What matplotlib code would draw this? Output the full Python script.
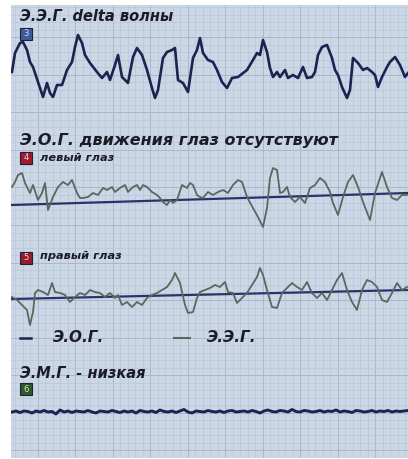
import matplotlib.pyplot as plt
from matplotlib.patches import Rectangle
from matplotlib.ticker import MultipleLocator

# traces (x = time position, y = trace value, axis inverted)
eeg_t = [12, 15, 20, 23, 27, 30, 33, 38, 43, 47, 50, 53, 57, 62, 67, 72, 75, 78, 82, 85,
         90, 97, 102, 107, 110, 115, 118, 122, 128, 133, 137, 142, 147, 152, 155, 158, 163,
         167, 172, 175, 178, 183, 188, 193, 197, 200, 203, 208, 213, 217, 222, 227, 232,
         238, 247, 253, 257, 260, 263, 267, 270, 273, 277, 280, 285, 288, 293, 298, 303,
         307, 312, 315, 318, 322, 327, 332, 335, 338, 342, 347, 350, 353, 358, 363, 367,
         372, 375, 378, 382, 387, 390, 395, 400, 405, 408]
eeg_v = [72, 53, 43, 42, 50, 62, 67, 82, 97, 83, 93, 97, 85, 85, 70, 62, 47, 35, 43, 55,
         63, 72, 78, 72, 80, 65, 55, 77, 83, 57, 48, 55, 70, 88, 98, 90, 58,
         52, 50, 48, 80, 83, 92, 58, 50, 38, 53, 60, 62, 70, 82, 88, 78,
         77, 70, 60, 53, 55, 40, 52, 68, 77, 72, 77, 70, 78, 75, 78, 67,
         78, 77, 72, 55, 47, 45, 58, 70, 75, 87, 98, 90, 58, 63, 70, 68,
         72, 75, 87, 77, 67, 62, 57, 65, 77, 73]

eog_l_t = [12, 15, 18, 22, 25, 30, 33, 38, 42, 45, 48, 53, 58, 63, 68, 72, 77, 80, 83, 88,
           93, 98, 103, 107, 112, 115, 120, 125, 128, 133, 137, 140, 143, 147, 152, 157,
           160, 163, 167, 170, 173, 177, 182, 187, 190, 193, 197, 200, 203, 208, 213, 218,
           223, 228, 233, 238, 242, 247, 253, 258, 263, 267, 270, 273, 277, 280, 283, 287,
           290, 295, 300, 305, 310, 315, 320, 325, 330, 333, 338, 343, 348, 353, 358, 363,
           370, 375, 382, 387, 392, 397, 402, 407]
eog_l_v = [187, 182, 175, 173, 183, 193, 185, 200, 193, 183, 210, 197, 187, 182, 185, 180,
           193, 198, 198, 197, 193, 195, 188, 190, 187, 192, 188, 185, 192, 187, 185, 190,
           185, 187, 192, 195, 198, 202, 205, 200, 203, 200, 185, 188, 183, 185, 195, 197,
           198, 192, 195, 192, 190, 193, 185, 180, 182, 197, 208, 217, 227, 208, 178, 168,
           170, 193, 192, 187, 197, 202, 197, 203, 188, 185, 178, 182, 192, 203, 215, 197,
           182, 175, 187, 202, 220, 193, 172, 187, 198, 200, 195, 195]
eog_l_base = [205, 193]

eog_r_t = [12, 17, 22, 27, 30, 33, 35, 38, 43, 48, 52, 55, 60, 65, 70, 75, 80, 85, 90, 95,
           100, 105, 110, 115, 118, 122, 127, 132, 137, 142, 147, 152, 157, 162, 167, 172,
           175, 180, 185, 188, 193, 197, 200, 205, 210, 215, 220, 225, 228, 233, 237, 242,
           247, 252, 257, 260, 263, 267, 272, 277, 282, 287, 292, 297, 302, 307, 312, 317,
           322, 327, 332, 337, 342, 347, 352, 357, 362, 367, 372, 377, 382, 387, 392, 397,
           402, 407]
eog_r_v = [297, 300, 305, 310, 325, 312, 293, 290, 292, 295, 283, 292, 293, 295, 302, 297,
           293, 295, 290, 292, 293, 297, 293, 298, 295, 305, 302, 307, 302, 305, 298, 295,
           293, 290, 287, 280, 273, 283, 305, 313, 312, 298, 292, 290, 288, 285, 287, 282,
           292, 293, 303, 298, 293, 285, 277, 268, 275, 290, 307, 308, 293, 288, 283, 287,
           290, 282, 293, 298, 293, 300, 290, 280, 273, 290, 302, 310, 290, 280, 282, 287,
           300, 302, 293, 283, 290, 287]
eog_r_base = [299, 290]

emg_t = [12, 16, 20, 24, 28, 32, 36, 40, 44, 48, 52, 56, 60, 64, 68, 72, 76, 80, 84, 88,
         92, 96, 100, 104, 108, 112, 116, 120, 124, 128, 132, 136, 140, 144, 148, 152, 156,
         160, 164, 168, 172, 176, 180, 184, 188, 192, 196, 200, 204, 208, 212, 216, 220,
         224, 228, 232, 236, 240, 244, 248, 252, 256, 260, 264, 268, 272, 276, 280, 284,
         288, 292, 296, 300, 304, 308, 312, 316, 320, 324, 328, 332, 336, 340, 344, 348,
         352, 356, 360, 364, 368, 372, 376, 380, 384, 388, 392, 396, 400, 404, 408]
emg_v = [412, 411, 412.5, 411, 411.5, 413, 411, 412, 410.5, 412, 411.5, 414, 410, 412,
         411, 412.5, 411, 411.5, 412, 410.5, 412, 413, 411, 411.5, 412, 410.5, 411.5, 412.5,
         411, 412, 411, 413, 410.5, 411.5, 412, 411, 412.5, 410, 411.5, 412, 411, 412.5,
         411, 409.5, 412, 413, 411, 411.5, 412, 410.5, 411.5, 412, 411, 412.5, 411, 410.5,
         412, 411.5, 411, 412, 410.5, 411.5, 413, 411, 410, 411.5, 412, 410.5, 411, 412,
         409.5, 411.5, 412, 410.5, 411, 412, 411.5, 410.5, 412, 411, 411.5, 410, 412, 411,
         411.5, 412.5, 410.5, 411, 412, 411.5, 410.5, 412, 411, 411.5, 410.5, 412, 411,
         411.5, 411, 410.5]

titles = ["Э.Э.Г. delta волны", "Э.О.Г. движения глаз отсутствуют", "Э.М.Г. - низкая"]
eye_labels = ["левый глаз", "правый глаз"]
badges = ["3", "4", "5", "6"]
legend_labels = ["Э.О.Г.", "Э.Э.Г."]

BG = "#ccd7e6"
NAVY = "#1b2350"
GREY = "#5d665e"
TXT = "#1c1c28"

fig = plt.figure(figsize=(4.08, 4.59), dpi=100)
ax = fig.add_axes([11 / 408, 1 / 459, 397 / 408, 453 / 459])
ax.set_facecolor(BG)
ax.set_xlim(11, 408)
ax.set_ylim(458, 5)
ax.xaxis.set_minor_locator(MultipleLocator(7.5))
ax.yaxis.set_minor_locator(MultipleLocator(7.5))
ax.xaxis.set_major_locator(MultipleLocator(37.5))
ax.yaxis.set_major_locator(MultipleLocator(37.5))
ax.grid(which="minor", color="#b9c6d8", lw=0.5)
ax.grid(which="major", color="#a9b8cc", lw=0.7)
ax.tick_params(which="both", length=0, labelbottom=False, labelleft=False)
for s in ax.spines.values():
    s.set_visible(False)

# traces
ax.plot(eeg_t, eeg_v, color=NAVY, lw=1.9, solid_joinstyle="round", zorder=3)
ax.plot([12, 408], eog_l_base, color="#26346a", lw=1.6, zorder=3)
ax.plot(eog_l_t, eog_l_v, color=GREY, lw=1.3, zorder=4)
ax.plot([12, 408], eog_r_base, color="#26346a", lw=1.6, zorder=3)
ax.plot(eog_r_t, eog_r_v, color=GREY, lw=1.3, zorder=4)
ax.plot(emg_t, emg_v, color=NAVY, lw=2.1, zorder=3)

# headings
font = dict(fontweight="bold", fontstyle="italic", color=TXT, va="center", ha="left",
            family="DejaVu Sans")
ax.text(20, 17, titles[0], fontsize=10.5, **font)
ax.text(20, 140, titles[1], fontsize=11.5, **font)
ax.text(20, 374, titles[2], fontsize=10.5, **font)
ax.text(40, 158, eye_labels[0], fontsize=8.2, **font)
ax.text(40, 256, eye_labels[1], fontsize=8.2, **font)

# coloured number badges
badge_pos = [(20, 28), (20, 152), (20, 252), (20, 383)]
badge_col = ["#3d5c9c", "#a5182c", "#9c1a2a", "#2f5a22"]
for (bx, by), c, lab in zip(badge_pos, badge_col, badges):
    ax.add_patch(Rectangle((bx, by), 12, 12, facecolor=c, edgecolor="#1a2040", lw=0.8,
                           zorder=5))
    ax.text(bx + 6, by + 6, lab, fontsize=6, color="#d8dde8", ha="center", va="center",
            zorder=6)

# legend
ax.plot([20, 31], [338, 338], color=NAVY, lw=1.8)
ax.text(53, 338, legend_labels[0], fontsize=11, **font)
ax.plot([174, 190], [338, 338], color=GREY, lw=1.5)
ax.text(207, 338, legend_labels[1], fontsize=11, **font)

fig.savefig("out.png", dpi=100, facecolor="white")
